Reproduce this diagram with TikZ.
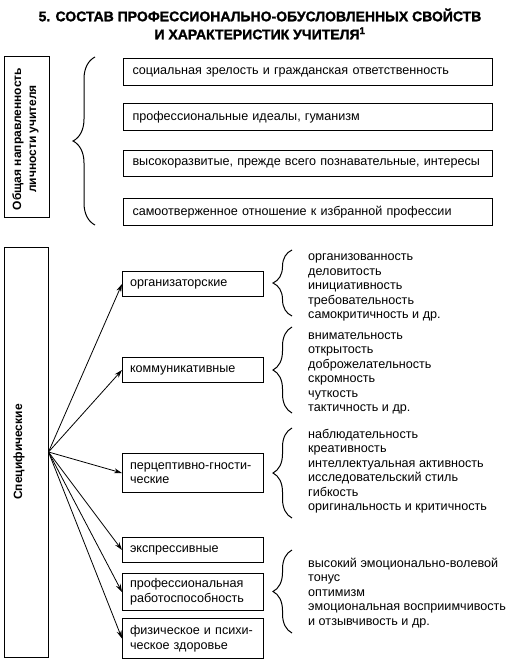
\documentclass[tikz,border=0pt]{standalone}
\usepackage{fontspec}
\setmainfont{Liberation Sans}
\newfontfamily\titlefont[BoldFeatures={FakeBold=1.5}]{Liberation Sans}
\usetikzlibrary{arrows.meta,decorations.pathreplacing}
\begin{document}
\begin{tikzpicture}[x=1pt,y=-1pt,
  bx/.style={draw, line width=1pt, anchor=north west, inner xsep=9pt, inner ysep=0pt, align=left,
             font=\fontsize{12.6}{14.6}\selectfont},
  topbox/.style={bx, text width=351pt, minimum height=27pt},
  midbox/.style={bx, inner xsep=7.5pt, text width=126pt},
  vbox/.style={draw, line width=1pt, rotate=90, inner sep=0pt},
  vtext/.style={rotate=90, align=center, font=\bfseries\fontsize{12}{15}\selectfont},
  list/.style={anchor=base west, align=left, inner sep=0pt, font=\fontsize{12.6}{14.5}\selectfont},
  brc/.style={decorate, decoration={brace, amplitude=#1}, line width=1pt},
  arr/.style={-{Stealth[length=8pt,width=5pt]}, line width=0.8pt}
]
\useasboundingbox (0,0) rectangle (520,666);

\node[align=center, font=\titlefont\bfseries\fontsize{14}{18}\selectfont] (title) at (260,24)
  {5. СОСТАВ ПРОФЕССИОНАЛЬНО-ОБУСЛОВЛЕННЫХ СВОЙСТВ\\И ХАРАКТЕРИСТИК УЧИТЕЛЯ\textsuperscript{1}};

% upper part
\node[vbox, minimum width=160pt, minimum height=45pt] (gen) at (26.5,137) {};
\node[vtext] (gentext) at (25.5,139) {Общая направленность\\личности учителя};
\draw[brc=22pt] (95,225) -- (95,57);

\node[topbox] (s1) at (123,58) {социальная зрелость и гражданская ответственность};
\node[topbox] (s2) at (123,103) {профессиональные идеалы, гуманизм};
\node[topbox, minimum height=26pt] (s3) at (123,150) {высокоразвитые, прежде всего познавательные, интересы};
\node[topbox] (s4) at (123,198) {самоотверженное отношение к избранной профессии};

% lower part
\node[vbox, minimum width=410pt, minimum height=44pt] (spec) at (26,452) {};
\node[vtext] (spectext) at (19,452) {Специфические};

\node[midbox, minimum height=25pt] (m1) at (122,271) {организаторские};
\node[midbox, minimum height=25pt] (m2) at (122,357) {коммуникативные};
\node[midbox, minimum height=39pt] (m3) at (122,453) {перцептивно-гности-\\ческие};
\node[midbox, minimum height=25pt] (m4) at (122,537) {экспрессивные};
\node[midbox, minimum height=37pt] (m5) at (122,573) {профессиональная\\работоспособность};
\node[midbox, minimum height=40pt] (m6) at (122,618) {физическое и психи-\\ческое здоровье};

\coordinate (src) at (spec.south);
\foreach \m in {m1,m2,m3,m4,m5,m6} \draw[arr] (src) -- (\m.west);

\draw[brc=19pt] (292,316) -- (292,250);
\draw[brc=19pt] (292,413) -- (292,327);
\draw[brc=19pt] (292,518) -- (292,428);
\draw[brc=19pt] (292,633) -- (292,550);

\node[list] (l1) at (308,318.5) {организованность\\деловитость\\инициативность\\требовательность\\самокритичность и др.};
\node[list] (l2) at (308,411.5) {внимательность\\открытость\\доброжелательность\\скромность\\чуткость\\тактичность и др.};
\node[list] (l3) at (308,510.5) {наблюдательность\\креативность\\интеллектуальная активность\\исследовательский стиль\\гибкость\\оригинальность и критичность};
\node[list] (l4) at (308,625) {высокий эмоционально-волевой\\тонус\\оптимизм\\эмоциональная восприимчивость\\и отзывчивость и др.};
\end{tikzpicture}
\end{document}
